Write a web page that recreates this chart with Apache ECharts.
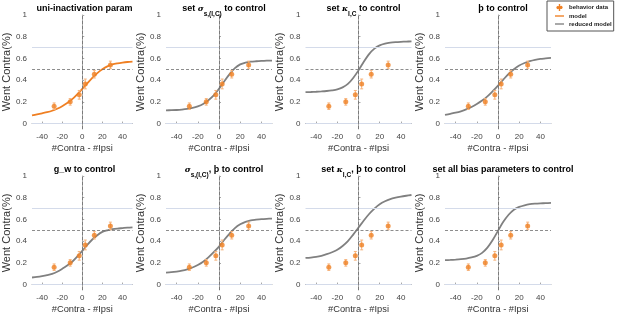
<!DOCTYPE html>
<html>
<head>
<meta charset="utf-8">
<script src="https://cdn.jsdelivr.net/npm/echarts@6/dist/echarts.min.js"></script>
<style>
  html, body { margin: 0; padding: 0; background: #fff; }
  #main { width: 617px; height: 316px; }
</style>
</head>
<body>
<div id="main"></div>
<script>
// behavior data (same in every panel)
const DATA_X = [-28, -12, -3, 3, 12, 28]
const DATA_Y = [0.16, 0.20, 0.265, 0.365, 0.455, 0.54]
const DATA_ERR = [0.03, 0.03, 0.04, 0.045, 0.035, 0.035]

// model curves, every 5 units
const CURVE_X = [-50, -45, -40, -35, -30, -25, -20, -15, -10, -5, 0, 5, 10, 15, 20, 25, 30, 35, 40, 45, 50]
const CURVE_UNI = [0.075, 0.085, 0.095, 0.105, 0.118, 0.137, 0.16, 0.19, 0.225, 0.27, 0.32, 0.37, 0.42, 0.465, 0.5, 0.527, 0.545, 0.555, 0.562, 0.567, 0.57]
const CURVE_SIGMA = [0.122, 0.123, 0.125, 0.129, 0.135, 0.144, 0.158, 0.18, 0.215, 0.26, 0.32, 0.39, 0.455, 0.51, 0.545, 0.562, 0.57, 0.574, 0.577, 0.579, 0.58]
const CURVE_KAPPA = [0.29, 0.291, 0.293, 0.296, 0.3, 0.306, 0.315, 0.333, 0.365, 0.42, 0.49, 0.57, 0.64, 0.69, 0.72, 0.736, 0.745, 0.75, 0.753, 0.755, 0.757]
const CURVE_THORN = [0.08, 0.09, 0.1, 0.113, 0.13, 0.152, 0.18, 0.212, 0.25, 0.298, 0.35, 0.405, 0.458, 0.5, 0.535, 0.558, 0.575, 0.587, 0.595, 0.6, 0.605]
const CURVE_GW = [0.065, 0.07, 0.077, 0.086, 0.098, 0.118, 0.145, 0.175, 0.21, 0.258, 0.31, 0.365, 0.415, 0.455, 0.485, 0.5, 0.51, 0.516, 0.52, 0.524, 0.527]
const CURVE_SIGMA_THORN = [0.11, 0.114, 0.12, 0.128, 0.14, 0.157, 0.18, 0.21, 0.25, 0.298, 0.35, 0.413, 0.47, 0.52, 0.555, 0.578, 0.592, 0.598, 0.603, 0.606, 0.608]
const CURVE_KAPPA_THORN = [0.245, 0.249, 0.255, 0.265, 0.28, 0.298, 0.32, 0.355, 0.4, 0.46, 0.525, 0.59, 0.65, 0.7, 0.74, 0.767, 0.787, 0.8, 0.81, 0.818, 0.825]
const CURVE_ALL_BIAS = [0.225, 0.227, 0.23, 0.234, 0.24, 0.25, 0.265, 0.292, 0.34, 0.41, 0.495, 0.578, 0.643, 0.69, 0.715, 0.73, 0.74, 0.745, 0.748, 0.75, 0.752]

const X_TICKS = [-40, -20, 0, 20, 40]
const Y_TICKS = [0, 0.2, 0.4, 0.6, 0.8, 1]
const REF_Y_SOLID = [0, 0.7]
const REF_Y_DASHED = [0.5]
const REF_X_DASHED = [0]

const PANEL_TITLES = [
  '{b|uni-inactivation param}',
  '{b|set }{g|σ}{s|s,(I,C)}{b| to control}',
  '{b|set }{g|κ}{s|I,C}{b| to control}',
  '{b|þ to control}',
  '{b|g_w to control}',
  '{g|σ}{s|s,(I,C)}{b|, þ to control}',
  '{b|set }{g|κ}{s|I,C}{b|, þ to control}',
  '{b|set all bias parameters to control}'
]
const PANEL_CURVES = [CURVE_UNI, CURVE_SIGMA, CURVE_KAPPA, CURVE_THORN,
  CURVE_GW, CURVE_SIGMA_THORN, CURVE_KAPPA_THORN, CURVE_ALL_BIAS]

const ORANGE = '#ef7f22'
const ORANGE_LIGHT = '#f6b27a'
const GRAY = '#808080'
const FONT = 'Liberation Sans, Arial, sans-serif'

const myChart = echarts.init(document.getElementById('main'))

const lefts = [26.5, 166, 305.5, 445]
const tops = [15, 176]
const W = 106
const H = 114

const grid = [], xAxis = [], yAxis = [], title = [], series = []

for (let i = 0; i < 8; i++) {
  const col = i % 4
  const row = Math.floor(i / 4)
  grid.push({ left: lefts[col], top: tops[row], width: W, height: H, containLabel: false })
  xAxis.push({
    gridIndex: i, type: 'value', min: -50, max: 50,
    name: '#Contra - #Ipsi', nameLocation: 'middle', nameGap: 15,
    nameTextStyle: { fontSize: 9.3, color: '#333', fontFamily: FONT },
    axisLine: { lineStyle: { color: '#a8a8a8', width: 1 } },
    axisTick: { inside: true, length: 2, customValues: X_TICKS, lineStyle: { color: '#a8a8a8' } },
    axisLabel: { customValues: X_TICKS, fontSize: 8, color: '#444', margin: 4, fontFamily: FONT },
    splitLine: { show: false }
  })
  yAxis.push({
    gridIndex: i, type: 'value', min: -0.05, max: 1,
    name: 'Went Contra(%)', nameLocation: 'middle', nameGap: 14,
    nameTextStyle: { fontSize: 11, color: '#333', fontFamily: FONT },
    axisLine: { show: true, lineStyle: { color: '#a8a8a8', width: 1 } },
    axisTick: { show: true, inside: true, length: 2, customValues: Y_TICKS, lineStyle: { color: '#a8a8a8' } },
    axisLabel: { customValues: Y_TICKS, fontSize: 8, color: '#444', margin: 5, fontFamily: FONT,
      formatter: v => String(Math.round(v * 10) / 10) },
    splitLine: { show: false }
  })
  title.push({
    text: PANEL_TITLES[i],
    left: lefts[col] + W / 2,
    top: row === 0 ? -1 : 160,
    textAlign: 'center',
    textStyle: {
      rich: {
        b: { fontSize: 9, fontWeight: 'bold', color: '#000', fontFamily: FONT, verticalAlign: 'bottom', padding: [0, 0, 5, 0] },
        g: { fontSize: 8, fontStyle: 'italic', color: '#000', fontFamily: 'DejaVu Serif, serif', verticalAlign: 'bottom', padding: [0, 0, 5, 0] },
        s: { fontSize: 6.5, fontWeight: 'bold', color: '#000', fontFamily: FONT, verticalAlign: 'bottom' }
      }
    }
  })

  const isModel = i === 0
  series.push({
    name: isModel ? 'model' : 'reduced model',
    type: 'line', xAxisIndex: i, yAxisIndex: i,
    data: CURVE_X.map((x, k) => [x, PANEL_CURVES[i][k]]),
    smooth: 0.3, symbol: 'none', showSymbol: false, z: 3,
    lineStyle: { color: isModel ? ORANGE : GRAY, width: 1.8 },
    itemStyle: { color: isModel ? ORANGE : GRAY },
    markLine: {
      silent: true, symbol: 'none', label: { show: false },
      data: [
        ...REF_Y_SOLID.map(v => ({ yAxis: v, lineStyle: { color: '#d4dbea', type: 'solid', width: 1 } })),
        ...REF_Y_DASHED.map(v => ({ yAxis: v, lineStyle: { color: '#707070', type: [3, 2], width: 0.8 } })),
        ...REF_X_DASHED.map(v => ({ xAxis: v, lineStyle: { color: '#707070', type: [3, 2], width: 0.8 } }))
      ]
    }
  })
  series.push({
    name: 'behavior data',
    type: 'custom', xAxisIndex: i, yAxisIndex: i, z: 4,
    data: DATA_X.map((x, k) => [x, DATA_Y[k] - DATA_ERR[k], DATA_Y[k] + DATA_ERR[k]]),
    encode: { x: 0, y: [1, 2] },
    renderItem: (params, api) => {
      const lo = api.coord([api.value(0), api.value(1)])
      const hi = api.coord([api.value(0), api.value(2)])
      const style = { stroke: ORANGE_LIGHT, lineWidth: 1 }
      return {
        type: 'group',
        children: [
          { type: 'line', shape: { x1: lo[0], y1: lo[1], x2: hi[0], y2: hi[1] }, style },
          { type: 'line', shape: { x1: lo[0] - 1.5, y1: lo[1], x2: lo[0] + 1.5, y2: lo[1] }, style },
          { type: 'line', shape: { x1: hi[0] - 1.5, y1: hi[1], x2: hi[0] + 1.5, y2: hi[1] }, style }
        ]
      }
    }
  })
  series.push({
    name: 'behavior data',
    type: 'scatter', xAxisIndex: i, yAxisIndex: i, z: 5,
    data: DATA_X.map((x, k) => [x, DATA_Y[k]]),
    symbol: 'circle', symbolSize: 5,
    itemStyle: { color: ORANGE }
  })
}

const option = {
  animation: false,
  backgroundColor: '#fff',
  textStyle: { fontFamily: FONT },
  title,
  grid,
  xAxis,
  yAxis,
  legend: {
    left: 547, top: 1, orient: 'vertical',
    padding: [3, 2, 4, 8], itemGap: 2, itemWidth: 9, itemHeight: 7,
    backgroundColor: '#fff', borderColor: '#555', borderWidth: 1, borderRadius: 0,
    textStyle: { fontSize: 6, fontWeight: 'bold', color: '#222', fontFamily: FONT },
    data: [
      { name: 'behavior data', icon: 'path://M4,0h2v3.2a2.2,2.2 0 1,1 0,3.6v3.2h-2v-3.2a2.2,2.2 0 1,1 0,-3.6z', itemStyle: { color: ORANGE } },
      { name: 'model', icon: 'path://M0,0h20v3h-20z', itemStyle: { color: ORANGE } },
      { name: 'reduced model', icon: 'path://M0,0h20v3h-20z', itemStyle: { color: GRAY } }
    ]
  },
  series
}
myChart.setOption(option)
</script>
</body>
</html>
